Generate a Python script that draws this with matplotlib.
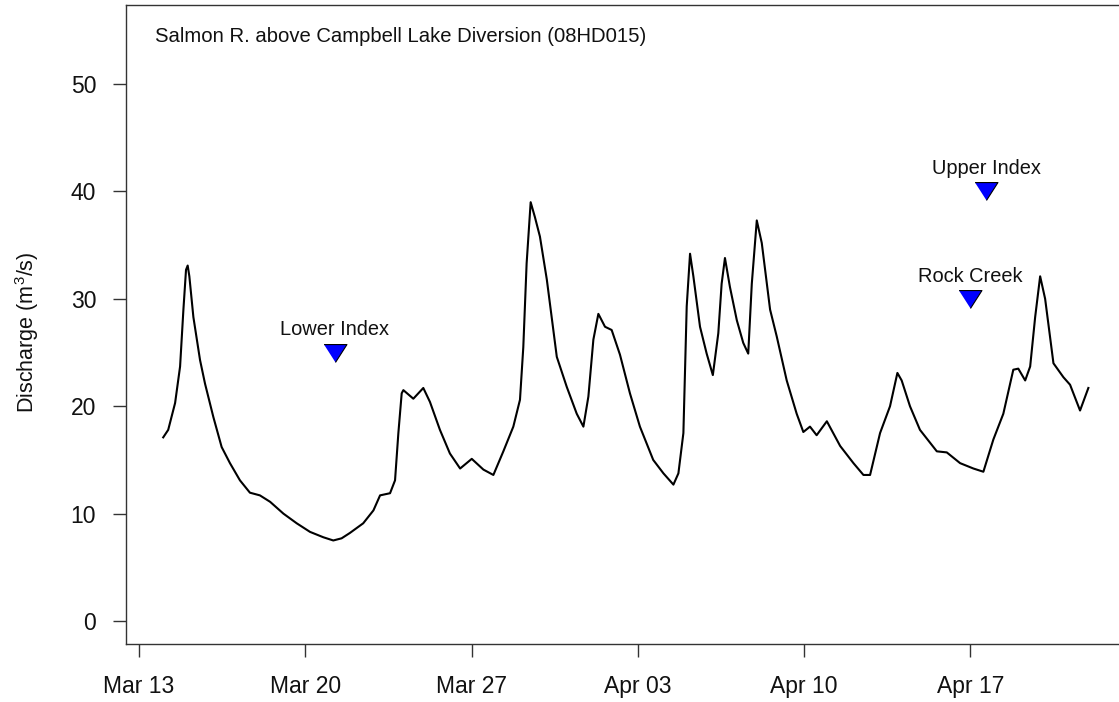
import pandas as pd
import numpy as np
import matplotlib
matplotlib.use("Agg")
import matplotlib.pyplot as plt
import matplotlib.dates as mdates

plt.rcParams['font.family'] = ['Liberation Sans', 'DejaVu Sans']
plt.rcParams['mathtext.fontset'] = 'custom'
plt.rcParams['mathtext.rm'] = 'Liberation Sans'
plt.rcParams['mathtext.it'] = 'Liberation Sans:italic'

# hydrograph: days after Mar 13 and discharge (m3/s)
flow_days = [1.02, 1.23, 1.52, 1.73, 1.87, 1.98, 2.05, 2.12, 2.29, 2.57,
             2.78, 3.13, 3.48, 3.83, 4.25, 4.67, 5.09, 5.52, 6.08, 6.64,
             7.20, 7.76, 8.18, 8.53, 8.88, 9.44, 9.87, 10.15, 10.57, 10.78,
             10.92, 11.06, 11.13, 11.55, 11.97, 12.25, 12.67, 13.09, 13.52, 14.01,
             14.50, 14.92, 15.34, 15.76, 16.04, 16.18, 16.32, 16.49, 16.67, 16.88,
             17.17, 17.59, 18.01, 18.43, 18.71, 18.92, 19.13, 19.34, 19.62, 19.90,
             20.25, 20.67, 21.09, 21.65, 22.08, 22.50, 22.71, 22.92, 23.06, 23.20,
             23.34, 23.62, 23.90, 24.16, 24.39, 24.53, 24.67, 24.88, 25.17, 25.44,
             25.65, 25.80, 26.01, 26.22, 26.57, 26.85, 27.27, 27.69, 27.97, 28.25,
             28.53, 28.96, 29.52, 30.08, 30.50, 30.78, 31.20, 31.62, 31.93, 32.11,
             32.46, 32.88, 33.59, 34.01, 34.57, 35.13, 35.55, 35.97, 36.39, 36.81,
             37.02, 37.31, 37.52, 37.73, 37.94, 38.15, 38.50, 38.92, 39.20, 39.62,
             39.97]
flow_vals = [17.1, 17.8, 20.3, 23.7, 29.0, 32.7, 33.1, 32.1, 28.3, 24.3,
             22.1, 19.0, 16.2, 14.7, 13.1, 11.95, 11.7, 11.1, 10.0, 9.1,
             8.3, 7.8, 7.5, 7.7, 8.2, 9.1, 10.3, 11.7, 11.9, 13.1,
             17.5, 21.2, 21.5, 20.7, 21.7, 20.4, 17.8, 15.6, 14.2, 15.1,
             14.1, 13.6, 15.8, 18.1, 20.6, 25.5, 33.3, 39.0, 37.6, 35.8,
             31.8, 24.6, 21.8, 19.3, 18.1, 20.9, 26.2, 28.6, 27.4, 27.1,
             24.8, 21.2, 18.1, 15.0, 13.75, 12.7, 13.75, 17.5, 29.3, 34.2,
             32.1, 27.4, 24.9, 22.9, 26.8, 31.4, 33.8, 31.1, 28.0, 25.9,
             24.9, 31.4, 37.3, 35.2, 29.0, 26.5, 22.4, 19.3, 17.6, 18.1,
             17.3, 18.6, 16.3, 14.7, 13.6, 13.6, 17.5, 20.0, 23.1, 22.4,
             20.0, 17.8, 15.8, 15.7, 14.7, 14.2, 13.9, 16.9, 19.3, 23.4,
             23.5, 22.4, 23.7, 28.3, 32.1, 30.0, 24.0, 22.7, 22.0, 19.6,
             21.7]

# sampling sites
site_names = ["Lower Index", "Rock Creek", "Upper Index"]
site_days = [8.25, 35.0, 35.66]
site_vals = [25, 30, 40]

start = pd.Timestamp("2017-03-13")
t = start + pd.to_timedelta(flow_days, unit="D")
t_sites = start + pd.to_timedelta(site_days, unit="D")

fig = plt.figure(figsize=(11.19, 7.02), dpi=100)
ax = fig.add_axes([126 / 1119, 58 / 702, 993 / 1119, 639 / 702])

ax.plot(t, flow_vals, color="black", lw=1.5)

ax.plot(t_sites, site_vals, linestyle="none", marker=[(-1, 0.78), (1, 0.78), (0, -0.78)],
        markersize=16.5, markerfacecolor="#0000ff", markeredgecolor="black", markeredgewidth=0.8)
for name, d, v in zip(site_names, t_sites, site_vals):
    ax.text(d, v + 1.6, name, ha="center", va="baseline", fontsize=14.4, color="#111111")

ax.text(0.029, 0.9426, "Salmon R. above Campbell Lake Diversion (08HD015)",
        transform=ax.transAxes, ha="left", va="baseline", fontsize=14.6, color="#111111")

ax.set_xlim(start - pd.Timedelta(days=0.547), start + pd.Timedelta(days=41.26))
ax.set_ylim(-2.14, 57.36)
ax.set_yticks([0, 10, 20, 30, 40, 50])
ax.set_xticks(start + pd.to_timedelta([0, 7, 14, 21, 28, 35], unit="D"))
ax.xaxis.set_major_formatter(mdates.DateFormatter("%b %d"))

for side in ["left", "bottom", "top"]:
    ax.spines[side].set_color("#333333")
    ax.spines[side].set_linewidth(1.0)
ax.spines["right"].set_visible(False)

ax.tick_params(axis="both", direction="out", length=9.5, width=1.0, color="#333333",
               labelsize=16.5, labelcolor="#111111")
ax.tick_params(axis="y", pad=12)
ax.tick_params(axis="x", pad=13)

ax.set_ylabel("Discharge (m$^3$/s)", fontsize=15.5, color="#111111")
ax.yaxis.set_label_coords(-0.086, 0.488)

fig.savefig("out.png", dpi=100)
